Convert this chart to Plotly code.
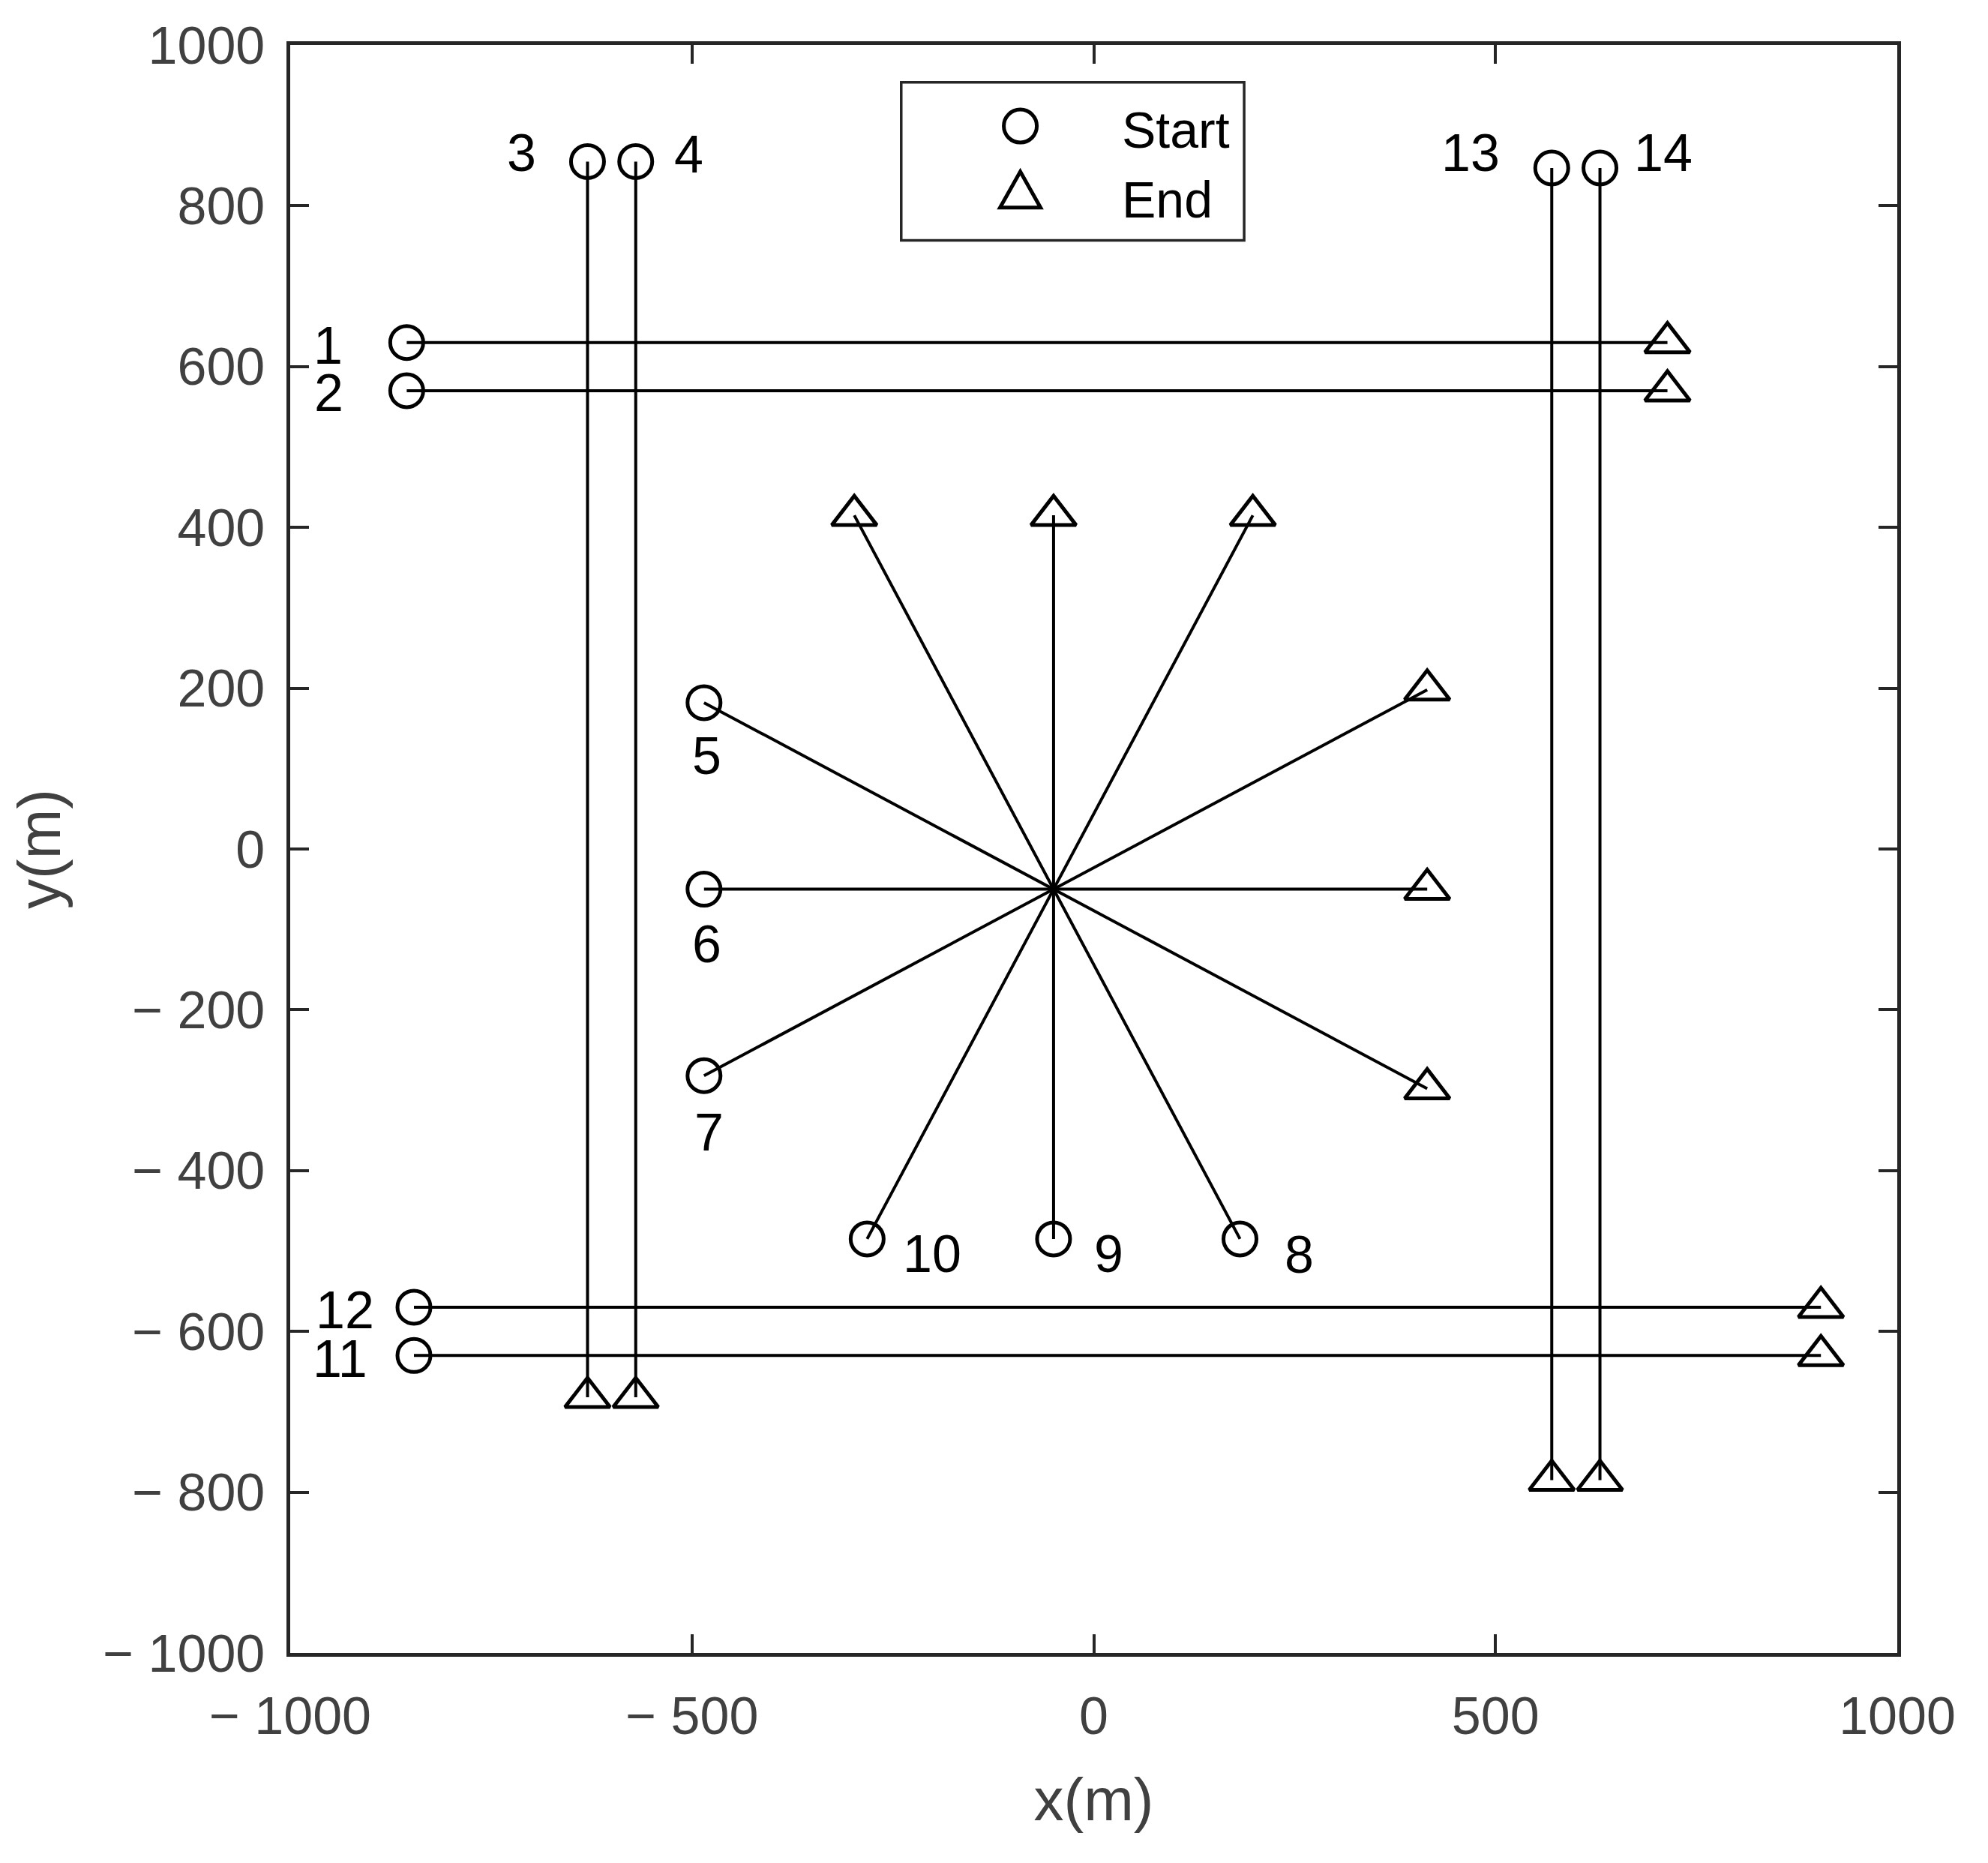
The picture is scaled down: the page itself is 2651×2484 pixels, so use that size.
import plotly.graph_objects as go

# trajectories: start point (circle) -> end point (triangle)
ids = [str(i) for i in range(1, 15)]
start_x = [-855, -855, -630, -570, -485, -485, -485, 182, -50, -282, -846, -846, 570, 630]
start_y = [630, 570, 855, 855, 182, -50, -282, -485, -485, -485, -630, -570, 847, 847]
end_x = [714, 714, -630, -570, 415, 415, 415, -298, -50, 198, 905, 905, 570, 630]
end_y = [630, 570, -682, -682, -298, -50, 198, 415, 415, 415, -630, -570, -785, -785]

# where the trajectory numbers sit
label_x = [-953, -952, -712, -504, -482, -482, -479, 256, 19, -201, -938, -932, 469, 709]
label_y = [626, 567, 866, 864, 116, -118, -353, -505, -504, -504, -634, -574, 866, 866]

x_ticks = [-1000, -500, 0, 500, 1000]
y_ticks = [-1000, -800, -600, -400, -200, 0, 200, 400, 600, 800, 1000]


def tick_text(v):
    return "\u2212 " + str(abs(v)) if v < 0 else str(v)


FONT = "Liberation Sans, Arial, sans-serif"
INK = "#000000"
AXIS = "#262626"
LABEL = "#404040"

fig = go.Figure()

for i in range(len(ids)):
    fig.add_trace(go.Scatter(
        x=[start_x[i], end_x[i]],
        y=[start_y[i], end_y[i]],
        mode="lines+markers",
        line=dict(color=INK, width=4),
        # array sizes would switch plotly to bubble opacity, so force it back to 1
        marker=dict(symbol=["circle-open", "triangle-up-open"], size=[44, 52], opacity=1,
                    color=INK, line=dict(color=INK, width=5)),
        name=ids[i],
        showlegend=False,
    ))

for i in range(len(ids)):
    fig.add_annotation(x=label_x[i], y=label_y[i], text=ids[i], showarrow=False,
                       xanchor="center", yanchor="middle", height=56,
                       font=dict(family=FONT, size=70, color=INK))

# legend box drawn by hand so the symbols keep their plotted size
fig.add_shape(type="rect", xref="paper", yref="paper", x0=0.3802, x1=0.5936,
              y0=0.8785, y1=0.9768, line=dict(color=AXIS, width=3.5),
              fillcolor="white", layer="above")
fig.add_shape(type="circle", xref="paper", yref="paper", xsizemode="pixel", ysizemode="pixel",
              xanchor=0.4543, yanchor=0.9496, x0=-22, x1=22, y0=-22, y1=22,
              line=dict(color=INK, width=5), layer="above")
fig.add_shape(type="path", xref="paper", yref="paper", xsizemode="pixel", ysizemode="pixel",
              xanchor=0.4543, yanchor=0.9054,
              path="M-27,-14 L27,-14 L0,34 Z",
              line=dict(color=INK, width=5), layer="above")
for txt, yy in [("Start", 0.9474), ("End", 0.9037)]:
    fig.add_annotation(xref="paper", yref="paper", x=0.5166, y=yy, text=txt,
                       showarrow=False, xanchor="left", yanchor="middle",
                       font=dict(family=FONT, size=68, color=INK))

axis_common = dict(
    range=[-1000, 1000], showgrid=False, zeroline=False,
    showline=True, linecolor=AXIS, linewidth=4.5, mirror="ticks",
    ticks="inside", ticklen=25, tickwidth=4, tickcolor=AXIS,
    tickfont=dict(family=FONT, size=70, color=LABEL),
)

fig.update_xaxes(**axis_common, tickvals=x_ticks, ticktext=[tick_text(v) for v in x_ticks],
                 ticklabelstandoff=19,
                 title=dict(text="x(m)", font=dict(family=FONT, size=80, color=LABEL), standoff=47))
fig.update_yaxes(**axis_common, tickvals=y_ticks, ticktext=[tick_text(v) for v in y_ticks],
                 ticklabelstandoff=15,
                 title=dict(text="y(m)", font=dict(family=FONT, size=80, color=LABEL), standoff=39))

# page body adds an 8px offset, so the margins are trimmed on the top/left
fig.update_layout(
    width=2651, height=2484,
    margin=dict(l=379, r=129, t=52, b=288),
    plot_bgcolor="white", paper_bgcolor="white",
    font=dict(family=FONT),
    showlegend=False,
)

fig.write_html("out.html")
